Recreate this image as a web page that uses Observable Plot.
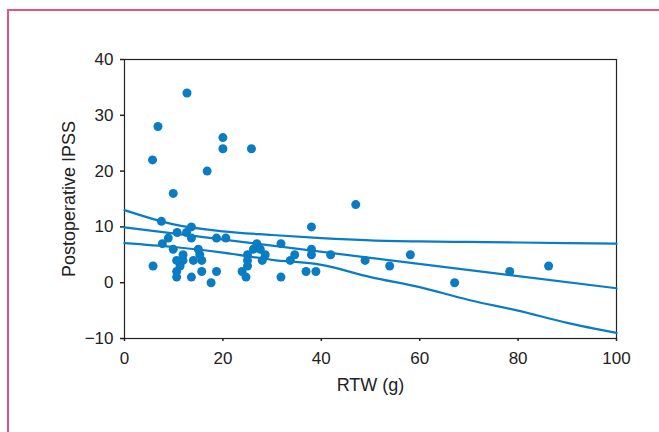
<!DOCTYPE html>
<html><head><meta charset="utf-8">
<script src="https://cdn.jsdelivr.net/npm/d3@7"></script>
<script src="https://cdn.jsdelivr.net/npm/@observablehq/plot@0.6"></script>
<style>
html,body{margin:0;padding:0;background:#fff;overflow:hidden;}
#wrap{position:relative;width:659px;height:432px;}
#border{position:absolute;left:7px;top:9px;width:700px;height:500px;border-left:2px solid #e2557f;border-top:2px solid #e2557f;pointer-events:none;z-index:2;}
g[aria-label="y-axis label"] text, g[aria-label="x-axis label"] text{font-size:18px;}
</style></head><body><div id="wrap"><div id="border"></div></div>
<script>
const rtw = [5.7,6.8,12.7,9.9,16.8,20,20,25.8,47,5.8,7.5,7.7,8.9,9.9,10.7,10.6,10.6,10.6,11.3,11.9,11.9,12.6,13.6,13.6,13.6,14,15,15.3,15.7,15.7,17.6,18.7,18.7,20.6,23.9,24.7,25,25,25,26.2,26.9,27.6,28.6,28,31.8,31.8,33.7,34.6,36.9,38,38,38,38.9,41.9,48.9,53.9,58.1,67.1,78.3,86.2];
const ipss = [22,28,34,16,20,26,24,24,14,3,11,7,8,6,9,4,2,1,3,5,4,9,10,8,1,4,6,5,4,2,0,8,2,8,2,1,5,4,3,6,7,6,5,4,7,1,4,5,2,10,6,5,2,5,4,3,5,0,2,3];
const fitX = [0, 100];
const fitY = [9.9, -1.0];
const bandX = [0,10,20,30,40,50,60,70,80,90,100];
const bandUpper = [13.0,10.45,9.2,8.55,8.0,7.6,7.4,7.3,7.2,7.1,7.0];
const bandLower = [7.1,6.4,5.4,4.1,3.2,1.0,-0.8,-3.1,-5.0,-7.2,-9.0];
const xTicks = [0,20,40,60,80,100];
const yTicks = [-10,0,10,20,30,40];

const pts = rtw.map((x,i)=>({x, y: ipss[i]}));
const fit = fitX.map((x,i)=>({x, y: fitY[i]}));
const up = bandX.map((x,i)=>({x, y: bandUpper[i]}));
const lo = bandX.map((x,i)=>({x, y: bandLower[i]}));
const blue = "#0a7cc4";

const chart = Plot.plot({
  width: 659, height: 432,
  marginLeft: 124, marginRight: 43, marginTop: 59, marginBottom: 94,
  style: {fontFamily: "'Liberation Sans', Arial, sans-serif", fontSize: "17px", color: "#222", background: "transparent"},
  x: {domain: [0, 100]},
  y: {domain: [-10, 40]},
  marks: [
    Plot.frame({stroke: "#222", strokeWidth: 1.2}),
    Plot.axisY({ticks: yTicks, tickSize: 4, tickPadding: 7, strokeWidth: 1.5, label: "Postoperative IPSS", labelAnchor: "center", labelArrow: "none", labelOffset: 62, tickFormat: d => d < 0 ? "\u2212" + Math.abs(d) : String(d)}),
    Plot.axisX({ticks: xTicks, tickSize: 3, tickPadding: 10, strokeWidth: 1.5, label: "RTW (g)", labelAnchor: "center", labelArrow: "none", labelOffset: 52}),
    Plot.line(up, {x: "x", y: "y", stroke: blue, strokeWidth: 2.2, curve: "monotone-x"}),
    Plot.line(lo, {x: "x", y: "y", stroke: blue, strokeWidth: 2.2, curve: "monotone-x"}),
    Plot.line(fit, {x: "x", y: "y", stroke: blue, strokeWidth: 2.2}),
    Plot.dot(pts, {x: "x", y: "y", r: 4.5, fill: blue, stroke: "none"})
  ]
});
document.getElementById("wrap").appendChild(chart);
chart.style.position = "absolute";
chart.style.left = "0";
chart.style.top = "0";
</script>
</body></html>
